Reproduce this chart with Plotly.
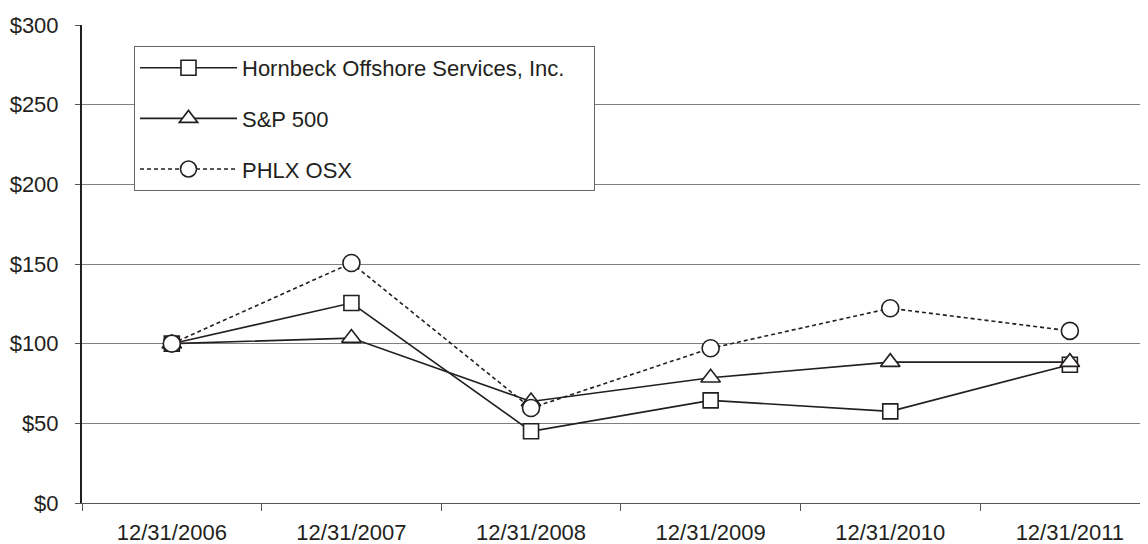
import plotly.graph_objects as go

dates = ["12/31/2006", "12/31/2007", "12/31/2008", "12/31/2009", "12/31/2010", "12/31/2011"]
hornbeck = [100, 125.5, 45.0, 64.4, 57.5, 86.8]
sp500 = [100, 103.5, 63.7, 78.6, 88.4, 88.4]
phlx_osx = [100, 150.6, 59.6, 97.1, 122.2, 108.0]
names = ["Hornbeck Offshore Services, Inc.", "S&P 500", "PHLX OSX"]

FONT = "Liberation Sans, Arial, sans-serif"
INK = "#231f20"

# page body has an 8px margin; figure sized so the plot lands where the reference has it
W, H = 1140, 536
ML, MT, MB = 74, 17, 41
PW, PH = W - ML, H - MT - MB

fig = go.Figure()
styles = [("square", "solid", 15), ("triangle-up", "solid", 17), ("circle", "4px,3px", 17)]
for i, (name, vals) in enumerate(zip(names, [hornbeck, sp500, phlx_osx])):
    sym, dash, sz = styles[i]
    fig.add_trace(go.Scatter(
        x=dates, y=vals, name=name + ("\u00a0" * 4 if i == 0 else ""),
        mode="lines+markers", legendgroup=f"g{i}",
        line=dict(color=INK, width=1.6, dash=dash),
        marker=dict(symbol=sym, size=sz, color="white",
                    line=dict(color=INK, width=1.6)),
    ))

fig.update_layout(
    width=W, height=H,
    margin=dict(l=ML, r=0, t=MT, b=MB, autoexpand=False),
    paper_bgcolor="white", plot_bgcolor="white",
    font=dict(family=FONT, size=22, color=INK),
    showlegend=True,
    legend=dict(
        x=(126 - ML) / PW, y=1 - (38 - MT) / PH,
        xanchor="left", yanchor="top",
        bgcolor="white", bordercolor="#666", borderwidth=1,
        font=dict(family=FONT, size=22, color=INK),
        tracegroupgap=19, itemwidth=97,
    ),
)
fig.update_xaxes(
    type="category", range=[-0.5, 5.435], automargin=False,
    tickson="boundaries", ticks="outside", ticklen=7, tickcolor="#555", tickwidth=1,
    showline=True, linecolor="#555", linewidth=1,
    showgrid=False, zeroline=False, ticklabelstandoff=10,
    tickfont=dict(family=FONT, size=22, color=INK),
)
fig.update_yaxes(
    range=[0, 300], dtick=50, tickprefix="$", automargin=False,
    ticks="outside", ticklen=5, tickcolor="#555", tickwidth=1,
    showline=True, linecolor=INK, linewidth=2,
    showgrid=True, gridcolor="#7f7f7f", gridwidth=1,
    zeroline=False, ticklabelstandoff=12,
    tickfont=dict(family=FONT, size=22, color=INK),
)

fig.write_html("out.html")
